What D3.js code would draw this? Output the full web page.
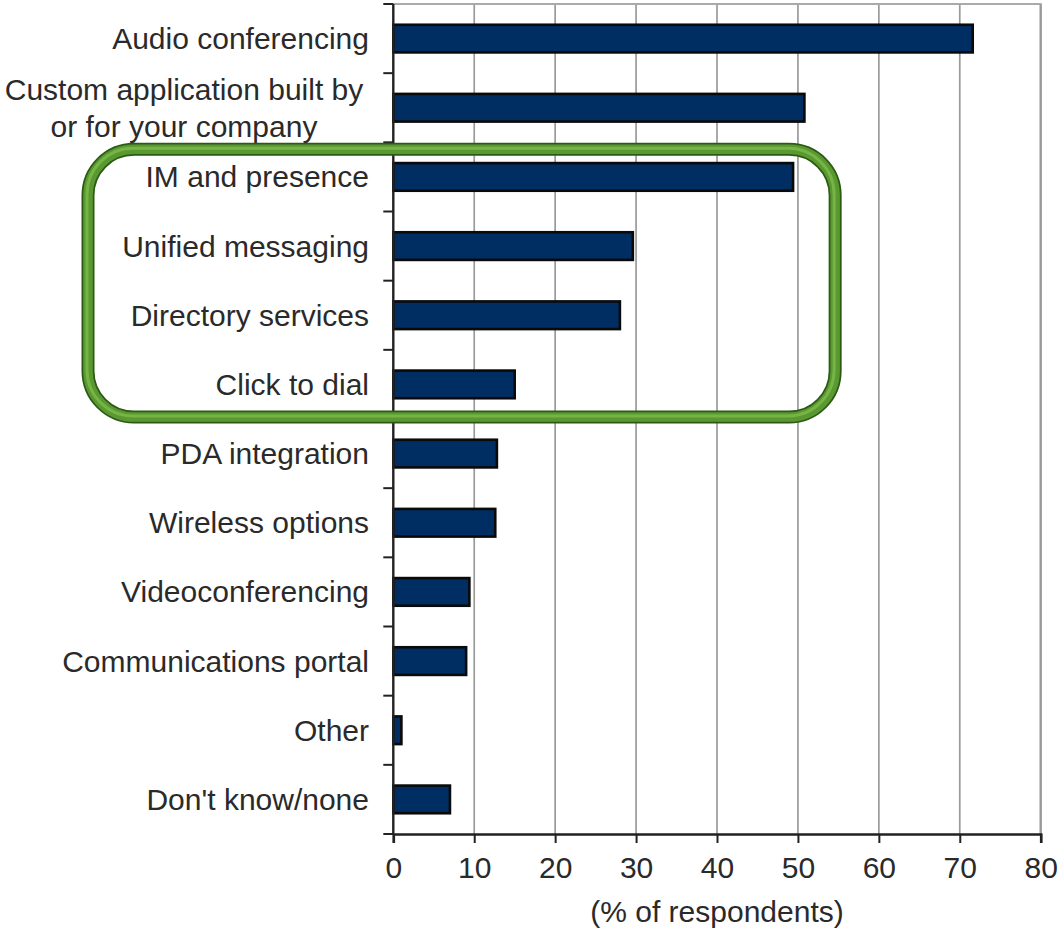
<!DOCTYPE html>
<html><head><meta charset="utf-8">
<script src="https://cdn.jsdelivr.net/npm/d3@7"></script>
<style>
html,body{margin:0;padding:0;background:#fff;}
svg{display:block;font-family:"Liberation Sans",Arial,sans-serif;}
</style></head>
<body>
<svg id="chart" width="1061" height="930"></svg>
<script>
const categories = ["Audio conferencing","Custom application built by|or for your company","IM and presence","Unified messaging","Directory services","Click to dial","PDA integration","Wireless options","Videoconferencing","Communications portal","Other","Don't know/none"];
const values = [71.6, 50.8, 49.4, 29.6, 28.0, 15.0, 12.8, 12.6, 9.4, 9.0, 1.0, 7.0];
const xTicks = [0,10,20,30,40,50,60,70,80];
const axisTitle = "(% of respondents)";
const highlighted = ["IM and presence","Click to dial"];

(function(){
const svg = d3.select("#chart");
const X0 = 393.3, X1 = 1040.7, Y0 = 4, Y1 = 834;
const x = d3.scaleLinear().domain([0,80]).range([X0,X1]);
const y = d3.scaleBand().domain(categories).range([Y0,Y1]).paddingInner(0.6).paddingOuter(0.3);
const step = y.step();
const bandTop = c => y(c) + y.bandwidth()/2 - step/2;

// gridlines
svg.append("g").selectAll("line").data(xTicks.slice(1)).join("line")
  .attr("x1", d=>x(d)).attr("x2", d=>x(d)).attr("y1", Y0).attr("y2", Y1)
  .attr("stroke", d=> d===80 ? "#999" : "#9a9a9a").attr("stroke-width", d=> d===80 ? 2.4 : 1.7);
// top border
svg.append("line").attr("x1",X0).attr("x2",X1+1).attr("y1",Y0).attr("y2",Y0).attr("stroke","#aaa").attr("stroke-width",2);

// bars
svg.append("g").selectAll("rect").data(categories).join("rect")
  .attr("x", x(0)).attr("y", c=>y(c))
  .attr("width", (c,i)=>x(values[i])-x(0)).attr("height", y.bandwidth())
  .attr("fill","#002d62").attr("stroke","#0a0a0a").attr("stroke-width",2.6);

// y axis line and ticks
svg.append("line").attr("x1",X0).attr("x2",X0).attr("y1",Y0).attr("y2",Y1+1).attr("stroke","#222").attr("stroke-width",2.4);
const bounds = categories.map(bandTop).concat([Y1]);
svg.append("g").selectAll("line").data(bounds).join("line")
  .attr("x1",X0-10).attr("x2",X0).attr("y1",d=>d).attr("y2",d=>d).attr("stroke","#222").attr("stroke-width",2);

// x axis
const xAxis = svg.append("g").attr("transform",`translate(0,${Y1})`)
  .call(d3.axisBottom(x).tickValues(xTicks).tickSize(9).tickPadding(14).tickFormat(d3.format("d")));
xAxis.select(".domain").attr("stroke","#222").attr("stroke-width",2.6);
xAxis.selectAll(".tick line").attr("stroke","#222").attr("stroke-width",2);
xAxis.selectAll(".tick text").attr("font-size",30).attr("fill","#2a2a2a").attr("font-family","Liberation Sans, Arial, sans-serif");

svg.append("text").attr("x", x(40)).attr("y", 922).attr("text-anchor","middle")
  .attr("font-size",30).attr("fill","#2a2a2a").text(axisTitle);

// y labels
const lab = svg.append("g").attr("font-size",30).attr("fill","#2a2a2a");
categories.forEach(c=>{
  const cy = y(c)+y.bandwidth()/2;
  const parts = c.split("|");
  if(parts.length===1){
    lab.append("text").attr("x",369).attr("y",cy).attr("dy","0.35em").attr("text-anchor","end").text(c);
  } else {
    parts.forEach((p,k)=>{
      lab.append("text").attr("x",184).attr("y",cy + (k-0.5)*37).attr("dy","0.35em").attr("text-anchor","middle").text(p);
    });
  }
});

// highlight box
const hy0 = bandTop(highlighted[0]) + 7;
const hy1 = bandTop(highlighted[1]) + step - 2;
const hx0 = 88, hx1 = x(54.6);
const drawBox = (w,col,op,dx,dy)=>svg.append("rect").attr("x",hx0+dx).attr("y",hy0+dy)
  .attr("width",hx1-hx0).attr("height",hy1-hy0).attr("rx",46).attr("ry",46)
  .attr("fill","none").attr("stroke",col).attr("stroke-width",w).attr("stroke-opacity",op);
drawBox(13,"#2c5a15",1,0,0);
drawBox(9.5,"#5a9831",1,0,0);
drawBox(3,"#79b848",0.9,-1,-1);
})();
</script>
</body></html>
